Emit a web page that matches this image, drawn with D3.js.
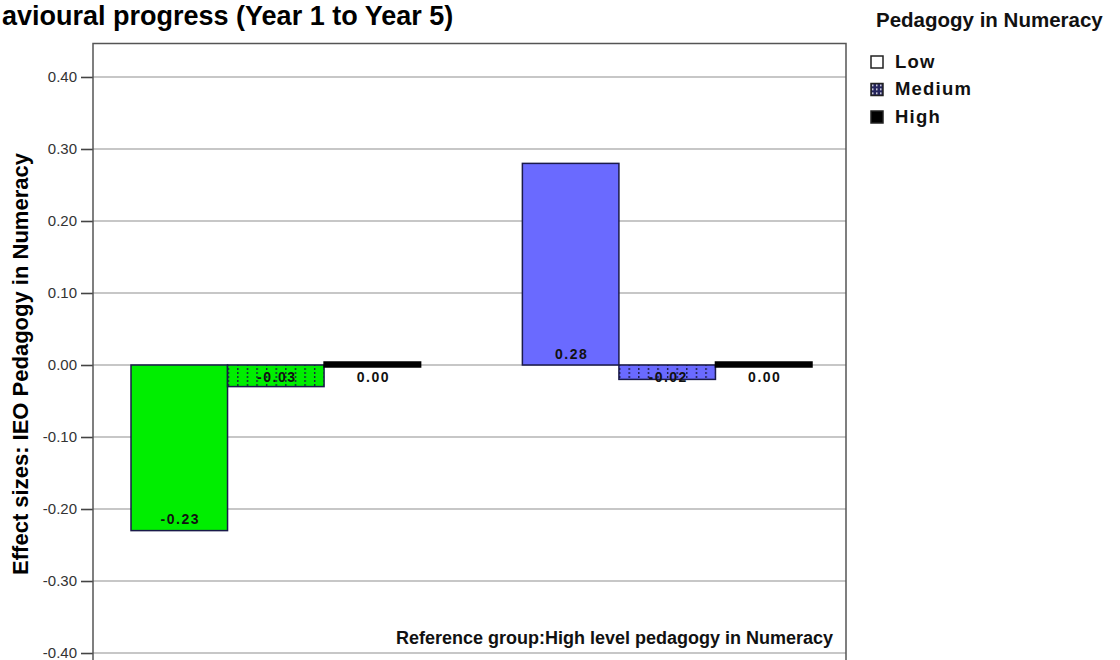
<!DOCTYPE html>
<html>
<head>
<meta charset="utf-8">
<script src="https://cdn.jsdelivr.net/npm/d3@7"></script>
<style>
  html, body { margin: 0; padding: 0; background: #fff; }
  svg { display: block; font-family: "Liberation Sans", Arial, sans-serif; }
</style>
</head>
<body>
<svg id="chart" width="1120" height="660"></svg>
<script>
// ---- data ----
const groups = ["Group A", "Group B"];
const levels = ["Low", "Medium", "High"];
const lowValues = [-0.23, 0.28];
const mediumValues = [-0.03, -0.02];
const highValues = [0.00, 0.00];
const groupColors = ["#00ee00", "#6a6aff"];
const yTicks = [0.40, 0.30, 0.20, 0.10, 0.00, -0.10, -0.20, -0.30, -0.40];
const titleText = "avioural progress (Year 1 to Year 5)";
const yLabel = "Effect sizes: IEO Pedagogy in Numeracy";
const legendTitle = "Pedagogy in Numeracy";
const noteText = "Reference group:High level pedagogy in Numeracy";

const seriesValues = { Low: lowValues, Medium: mediumValues, High: highValues };
const fmt = v => d3.format(".2f")(v).replace("\u2212", "-");

const svg = d3.select("#chart");
const plot = { left: 93, right: 846, top: 43.5, bottom: 686.5 };

const y = d3.scaleLinear().domain([-0.4465, 0.4465]).range([plot.bottom, plot.top]);
const x0 = d3.scaleBand().domain(groups).range([131, 812]).paddingInner(0.26).paddingOuter(0);
const x1 = d3.scaleBand().domain(levels).range([0, x0.bandwidth()]);

// patterns for Medium
const defs = svg.append("defs");
groups.forEach((g, i) => {
  const p = defs.append("pattern").attr("id", "dots" + i)
    .attr("patternUnits", "userSpaceOnUse").attr("width", 9.6).attr("height", 4)
    .attr("x", x0(g) + x1("Medium"));
  p.append("rect").attr("width", 9.6).attr("height", 4).attr("fill", groupColors[i]);
  p.append("rect").attr("x", 0).attr("y", 0).attr("width", 1.4).attr("height", 2).attr("fill", "#1a1a40");
});
const lp = defs.append("pattern").attr("id", "legendDots")
  .attr("patternUnits", "userSpaceOnUse").attr("width", 4).attr("height", 4);
lp.append("rect").attr("width", 4).attr("height", 4).attr("fill", "#25255e");
lp.append("rect").attr("x", 1).attr("y", 1).attr("width", 1.5).attr("height", 1.5).attr("fill", "#ffffff");

// title
svg.append("text").attr("x", 2).attr("y", 25)
  .attr("font-size", 27).attr("font-weight", "bold").attr("fill", "#000")
  .text(titleText);

// plot background
svg.append("rect").attr("x", plot.left).attr("y", plot.top)
  .attr("width", plot.right - plot.left).attr("height", plot.bottom - plot.top)
  .attr("fill", "#fff");

// gridlines
svg.append("g").selectAll("line").data(yTicks).join("line")
  .attr("x1", plot.left).attr("x2", plot.right)
  .attr("y1", d => y(d)).attr("y2", d => y(d))
  .attr("stroke", "#b4b4b4").attr("stroke-width", 1.3);

// y axis
const yAxis = d3.axisLeft(y).tickValues(yTicks).tickFormat(fmt).tickSize(12).tickPadding(4);
const ya = svg.append("g").attr("transform", `translate(${plot.left},0)`).call(yAxis);
ya.attr("font-size", 15).attr("font-family", "Liberation Sans, Arial, sans-serif");
ya.select(".domain").remove();
ya.selectAll(".tick line").attr("stroke", "#444").attr("stroke-width", 1.6);
ya.selectAll(".tick text").attr("fill", "#333").attr("font-size", 15);

// y label
svg.append("text")
  .attr("transform", `translate(28,364) rotate(-90)`)
  .attr("text-anchor", "middle").attr("font-size", 22).attr("font-weight", "bold").attr("fill", "#000")
  .text(yLabel);

// bars
const barData = [];
groups.forEach((g, gi) => {
  levels.forEach(l => barData.push({ group: g, gi, level: l, value: seriesValues[l][gi] }));
});
const fillFor = d => d.level === "High" ? "#000" : (d.level === "Medium" ? `url(#dots${d.gi})` : groupColors[d.gi]);

const bars = svg.append("g");
bars.selectAll("rect").data(barData).join("rect")
  .attr("x", d => x0(d.group) + x1(d.level))
  .attr("width", x1.bandwidth())
  .attr("y", d => d.level === "High" && d.value === 0 ? y(0) - 3 : Math.min(y(d.value), y(0)))
  .attr("height", d => d.level === "High" && d.value === 0 ? 5 : Math.abs(y(d.value) - y(0)))
  .attr("fill", fillFor)
  .attr("stroke", d => d.level === "High" ? "#000" : "#1a1a4a")
  .attr("stroke-width", 1.5);

// bar labels
bars.selectAll("text").data(barData).join("text")
  .attr("x", d => x0(d.group) + x1(d.level) + x1.bandwidth() / 2 + 1)
  .attr("y", d => d.value > 0 ? y(0) - 6.5 : Math.max(y(d.value) - 6.5, y(0) + 17))
  .attr("text-anchor", "middle").attr("font-size", 14).attr("font-weight", "bold")
  .attr("letter-spacing", 1.5).attr("fill", "#111")
  .text(d => fmt(d.value));

// frame
svg.append("rect").attr("x", plot.left).attr("y", plot.top)
  .attr("width", plot.right - plot.left).attr("height", plot.bottom - plot.top)
  .attr("fill", "none").attr("stroke", "#555").attr("stroke-width", 1.5);

// reference note
svg.append("text").attr("x", 833).attr("y", 644).attr("text-anchor", "end")
  .attr("font-size", 18).attr("font-weight", "bold").attr("fill", "#111")
  .text(noteText);

// legend
svg.append("text").attr("x", 876).attr("y", 27)
  .attr("font-size", 20.5).attr("font-weight", "bold").attr("fill", "#111")
  .text(legendTitle);
const legendFills = { Low: "#fff", Medium: "url(#legendDots)", High: "#000" };
const lg = svg.append("g").selectAll("g").data(levels).join("g")
  .attr("transform", (d, i) => `translate(871,${56 + i * 27.5})`);
lg.append("rect").attr("width", 12).attr("height", 12)
  .attr("fill", d => legendFills[d]).attr("stroke", "#222").attr("stroke-width", 1.5);
lg.append("text").attr("x", 24).attr("y", 11.5)
  .attr("font-size", 18.5).attr("font-weight", "bold").attr("letter-spacing", 1.2).attr("fill", "#111")
  .text(d => d);
</script>
</body>
</html>
